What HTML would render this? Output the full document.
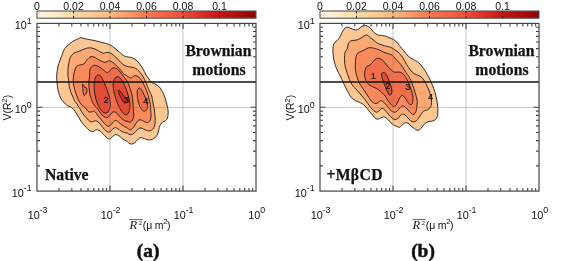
<!DOCTYPE html>
<html><head><meta charset="utf-8"><style>
html,body{margin:0;padding:0;background:#fff;width:566px;height:261px;overflow:hidden}
svg{display:block;will-change:transform}
</style></head><body>
<svg width="566" height="261" viewBox="0 0 566 261">
<defs><linearGradient id="cmap" x1="0" y1="0" x2="1" y2="0"><stop offset="0.000" stop-color="#fff3e2"/><stop offset="0.080" stop-color="#feebcc"/><stop offset="0.167" stop-color="#fddaa5"/><stop offset="0.333" stop-color="#fdbb80"/><stop offset="0.500" stop-color="#f77a50"/><stop offset="0.667" stop-color="#eb5037"/><stop offset="0.750" stop-color="#dc2e23"/><stop offset="0.833" stop-color="#c81414"/><stop offset="1.000" stop-color="#8c0505"/></linearGradient></defs>
<rect width="566" height="261" fill="#fff"/>
<path d="M80.80,37.80 C82.58,37.80 85.50,38.97 87.70,39.40 C89.90,39.83 91.67,39.90 94.00,40.40 C96.33,40.90 99.40,41.80 101.70,42.40 C104.00,43.00 106.02,43.35 107.80,44.00 C109.58,44.65 110.87,45.28 112.40,46.30 C113.93,47.32 115.47,48.83 117.00,50.10 C118.53,51.37 120.32,52.88 121.60,53.90 C122.88,54.92 123.55,55.68 124.70,56.20 C125.85,56.72 127.23,56.73 128.50,57.00 C129.77,57.27 130.88,57.17 132.30,57.80 C133.72,58.43 135.70,59.65 137.00,60.80 C138.30,61.95 139.07,63.30 140.10,64.70 C141.13,66.10 142.30,67.65 143.20,69.20 C144.10,70.75 144.60,72.43 145.50,74.00 C146.40,75.57 147.58,77.20 148.60,78.60 C149.62,80.00 150.45,81.47 151.60,82.40 C152.75,83.33 154.22,83.43 155.50,84.20 C156.78,84.97 158.15,85.77 159.30,87.00 C160.45,88.23 161.55,90.10 162.40,91.60 C163.25,93.10 163.78,94.35 164.40,96.00 C165.02,97.65 165.58,99.67 166.10,101.50 C166.62,103.33 167.15,105.15 167.50,107.00 C167.85,108.85 168.20,110.75 168.20,112.60 C168.20,114.45 167.97,116.73 167.50,118.10 C167.03,119.47 166.20,120.12 165.40,120.80 C164.60,121.48 163.50,121.62 162.70,122.20 C161.90,122.78 161.18,123.38 160.60,124.30 C160.02,125.22 159.58,126.42 159.20,127.70 C158.82,128.98 158.75,130.57 158.30,132.00 C157.85,133.43 157.32,135.18 156.50,136.30 C155.68,137.42 154.35,138.12 153.40,138.70 C152.45,139.28 151.78,139.62 150.80,139.80 C149.82,139.98 148.58,140.00 147.50,139.80 C146.42,139.60 145.38,138.97 144.30,138.60 C143.22,138.23 141.97,137.57 141.00,137.60 C140.03,137.63 139.33,138.15 138.50,138.80 C137.67,139.45 136.92,140.67 136.00,141.50 C135.08,142.33 134.00,143.42 133.00,143.80 C132.00,144.18 130.92,144.13 130.00,143.80 C129.08,143.47 128.38,142.43 127.50,141.80 C126.62,141.17 125.60,140.53 124.70,140.00 C123.80,139.47 123.07,139.32 122.10,138.60 C121.13,137.88 119.98,136.38 118.90,135.70 C117.82,135.02 116.58,134.42 115.60,134.50 C114.62,134.58 113.87,135.48 113.00,136.20 C112.13,136.92 111.27,138.40 110.40,138.80 C109.53,139.20 108.78,139.17 107.80,138.60 C106.82,138.03 105.58,136.48 104.50,135.40 C103.42,134.32 102.38,133.03 101.30,132.10 C100.22,131.17 98.97,130.12 98.00,129.80 C97.03,129.48 96.25,129.95 95.50,130.20 C94.75,130.45 94.22,131.08 93.50,131.30 C92.78,131.52 91.97,131.72 91.20,131.50 C90.43,131.28 89.75,130.70 88.90,130.00 C88.05,129.30 87.05,128.27 86.10,127.30 C85.15,126.33 84.07,125.25 83.20,124.20 C82.33,123.15 81.67,122.17 80.90,121.00 C80.13,119.83 79.37,118.50 78.60,117.20 C77.83,115.90 77.15,114.50 76.30,113.20 C75.45,111.90 74.40,110.42 73.50,109.40 C72.60,108.38 71.97,107.75 70.90,107.10 C69.83,106.45 68.25,106.28 67.10,105.50 C65.95,104.72 65.03,103.57 64.00,102.40 C62.97,101.23 61.80,100.17 60.90,98.50 C60.00,96.83 59.18,94.43 58.60,92.40 C58.02,90.37 57.70,88.35 57.40,86.30 C57.10,84.25 56.90,82.15 56.80,80.10 C56.70,78.05 56.63,76.18 56.80,74.00 C56.97,71.82 57.25,69.32 57.80,67.00 C58.35,64.68 59.33,62.28 60.10,60.10 C60.87,57.92 61.63,55.82 62.40,53.90 C63.17,51.98 63.80,50.00 64.70,48.60 C65.60,47.20 66.52,46.65 67.80,45.50 C69.08,44.35 70.87,42.72 72.40,41.70 C73.93,40.68 75.60,40.05 77.00,39.40 C78.40,38.75 79.02,37.80 80.80,37.80Z" fill="#fdc794" stroke="#1a1a1a" stroke-width="0.9"/>
<path d="M70.90,56.20 C71.67,54.93 72.38,54.08 73.90,53.20 C75.42,52.32 78.08,51.67 80.00,50.90 C81.92,50.13 83.87,49.12 85.40,48.60 C86.93,48.08 87.77,47.80 89.20,47.80 C90.63,47.80 92.43,48.08 94.00,48.60 C95.57,49.12 97.07,50.13 98.60,50.90 C100.13,51.67 101.80,52.95 103.20,53.20 C104.60,53.45 105.72,52.40 107.00,52.40 C108.28,52.40 109.62,52.57 110.90,53.20 C112.18,53.83 113.43,55.05 114.70,56.20 C115.97,57.35 117.22,58.82 118.50,60.10 C119.78,61.38 121.12,62.88 122.40,63.90 C123.68,64.92 124.80,65.68 126.20,66.20 C127.60,66.72 129.50,66.75 130.80,67.00 C132.10,67.25 132.97,67.33 134.00,67.70 C135.03,68.07 136.00,68.40 137.00,69.20 C138.00,70.00 139.00,71.28 140.00,72.50 C141.00,73.72 142.05,74.90 143.00,76.50 C143.95,78.10 144.95,80.47 145.70,82.10 C146.45,83.73 146.90,84.83 147.50,86.30 C148.10,87.77 148.60,89.28 149.30,90.90 C150.00,92.52 151.08,94.00 151.70,96.00 C152.32,98.00 152.55,100.60 153.00,102.90 C153.45,105.20 154.05,107.50 154.40,109.80 C154.75,112.10 154.98,114.47 155.10,116.70 C155.22,118.93 155.32,121.35 155.10,123.20 C154.88,125.05 154.40,126.67 153.80,127.80 C153.20,128.93 152.30,129.47 151.50,130.00 C150.70,130.53 149.83,130.93 149.00,131.00 C148.17,131.07 147.40,130.73 146.50,130.40 C145.60,130.07 144.52,129.40 143.60,129.00 C142.68,128.60 141.87,128.03 141.00,128.00 C140.13,127.97 139.27,128.25 138.40,128.80 C137.53,129.35 136.70,130.43 135.80,131.30 C134.90,132.17 133.97,133.45 133.00,134.00 C132.03,134.55 130.97,134.77 130.00,134.60 C129.03,134.43 128.08,133.33 127.20,133.00 C126.32,132.67 125.65,132.88 124.70,132.60 C123.75,132.32 122.58,131.92 121.50,131.30 C120.42,130.68 119.18,129.52 118.20,128.90 C117.22,128.28 116.47,127.60 115.60,127.60 C114.73,127.60 113.87,128.28 113.00,128.90 C112.13,129.52 111.27,130.78 110.40,131.30 C109.53,131.82 108.78,132.30 107.80,132.00 C106.82,131.70 105.58,130.57 104.50,129.50 C103.42,128.43 102.38,126.87 101.30,125.60 C100.22,124.33 99.05,122.70 98.00,121.90 C96.95,121.10 95.93,120.82 95.00,120.80 C94.07,120.78 93.22,121.68 92.40,121.80 C91.58,121.92 90.92,121.97 90.10,121.50 C89.28,121.03 88.47,120.00 87.50,119.00 C86.53,118.00 85.30,116.75 84.30,115.50 C83.30,114.25 82.35,112.85 81.50,111.50 C80.65,110.15 79.95,108.65 79.20,107.40 C78.45,106.15 77.78,105.15 77.00,104.00 C76.22,102.85 75.25,101.83 74.50,100.50 C73.75,99.17 73.10,97.35 72.50,96.00 C71.90,94.65 71.43,94.02 70.90,92.40 C70.37,90.78 69.68,88.35 69.30,86.30 C68.92,84.25 68.85,82.15 68.60,80.10 C68.35,78.05 67.87,76.18 67.80,74.00 C67.73,71.82 67.95,69.20 68.20,67.00 C68.45,64.80 68.85,62.60 69.30,60.80 C69.75,59.00 70.13,57.47 70.90,56.20Z" fill="#fca872" stroke="#1a1a1a" stroke-width="0.9"/>
<path d="M73.90,74.00 C74.15,72.45 74.32,71.97 74.70,70.80 C75.08,69.63 75.57,67.90 76.20,67.00 C76.83,66.10 77.22,65.92 78.50,65.40 C79.78,64.88 82.62,64.67 83.90,63.90 C85.18,63.13 85.18,61.95 86.20,60.80 C87.22,59.65 88.70,57.63 90.00,57.00 C91.30,56.37 92.70,56.62 94.00,57.00 C95.30,57.38 96.40,58.53 97.80,59.30 C99.20,60.07 101.12,61.08 102.40,61.60 C103.68,62.12 104.47,62.53 105.50,62.40 C106.53,62.27 107.58,60.93 108.60,60.80 C109.62,60.67 110.45,60.95 111.60,61.60 C112.75,62.25 114.22,63.55 115.50,64.70 C116.78,65.85 118.15,67.23 119.30,68.50 C120.45,69.77 121.53,71.30 122.40,72.30 C123.27,73.30 123.82,73.97 124.50,74.50 C125.18,75.03 125.87,75.12 126.50,75.50 C127.13,75.88 127.62,76.38 128.30,76.80 C128.98,77.22 129.90,77.97 130.60,78.00 C131.30,78.03 131.83,77.38 132.50,77.00 C133.17,76.62 133.77,75.82 134.60,75.70 C135.43,75.58 136.58,75.87 137.50,76.30 C138.42,76.73 139.28,77.40 140.10,78.30 C140.92,79.20 141.63,80.37 142.40,81.70 C143.17,83.03 144.00,84.77 144.70,86.30 C145.40,87.83 146.02,89.37 146.60,90.90 C147.18,92.43 147.73,93.98 148.20,95.50 C148.67,97.02 149.05,98.53 149.40,100.00 C149.75,101.47 150.05,102.20 150.30,104.30 C150.55,106.40 150.80,110.30 150.90,112.60 C151.00,114.90 151.12,116.65 150.90,118.10 C150.68,119.55 150.17,120.55 149.60,121.30 C149.03,122.05 148.27,122.48 147.50,122.60 C146.73,122.72 145.83,122.33 145.00,122.00 C144.17,121.67 143.33,120.97 142.50,120.60 C141.67,120.23 140.78,119.77 140.00,119.80 C139.22,119.83 138.53,120.10 137.80,120.80 C137.07,121.50 136.37,122.83 135.60,124.00 C134.83,125.17 134.05,126.83 133.20,127.80 C132.35,128.77 131.45,129.73 130.50,129.80 C129.55,129.87 128.57,128.78 127.50,128.20 C126.43,127.62 125.22,126.95 124.10,126.30 C122.98,125.65 121.78,125.07 120.80,124.30 C119.82,123.53 119.07,122.35 118.20,121.70 C117.33,121.05 116.47,120.30 115.60,120.40 C114.73,120.50 113.87,121.47 113.00,122.30 C112.13,123.13 111.27,124.77 110.40,125.40 C109.53,126.03 108.78,126.40 107.80,126.10 C106.82,125.80 105.58,124.67 104.50,123.60 C103.42,122.53 102.38,121.00 101.30,119.70 C100.22,118.40 98.97,117.05 98.00,115.80 C97.03,114.55 96.25,113.00 95.50,112.20 C94.75,111.40 94.22,111.03 93.50,111.00 C92.78,110.97 91.97,111.87 91.20,112.00 C90.43,112.13 89.57,112.08 88.90,111.80 C88.23,111.52 87.77,110.97 87.20,110.30 C86.63,109.63 86.12,108.43 85.50,107.80 C84.88,107.17 84.28,107.15 83.50,106.50 C82.72,105.85 81.75,105.23 80.80,103.90 C79.85,102.57 78.68,100.42 77.80,98.50 C76.92,96.58 76.15,94.43 75.50,92.40 C74.85,90.37 74.28,88.35 73.90,86.30 C73.52,84.25 73.20,82.15 73.20,80.10 C73.20,78.05 73.65,75.55 73.90,74.00Z" fill="#f88a5b" stroke="#1a1a1a" stroke-width="0.9"/>
<path d="M89.60,76.00 C89.78,73.70 89.60,70.78 90.00,69.20 C90.40,67.62 91.23,67.17 92.00,66.50 C92.77,65.83 93.40,65.13 94.60,65.20 C95.80,65.27 97.67,66.05 99.20,66.90 C100.73,67.75 102.47,69.35 103.80,70.30 C105.13,71.25 106.25,72.50 107.20,72.60 C108.15,72.70 108.53,71.67 109.50,70.90 C110.47,70.13 111.85,68.38 113.00,68.00 C114.15,67.62 115.25,68.02 116.40,68.60 C117.55,69.18 118.75,70.25 119.90,71.50 C121.05,72.75 122.15,74.57 123.30,76.10 C124.45,77.63 125.82,79.05 126.80,80.70 C127.78,82.35 128.47,84.20 129.20,86.00 C129.93,87.80 130.65,89.62 131.20,91.50 C131.75,93.38 132.17,95.07 132.50,97.30 C132.83,99.53 133.03,102.48 133.20,104.90 C133.37,107.32 133.40,109.87 133.50,111.80 C133.60,113.73 133.97,115.13 133.80,116.50 C133.63,117.87 133.08,119.05 132.50,120.00 C131.92,120.95 131.05,121.95 130.30,122.20 C129.55,122.45 128.82,121.73 128.00,121.50 C127.18,121.27 126.27,121.13 125.40,120.80 C124.53,120.47 123.67,120.12 122.80,119.50 C121.93,118.88 121.07,118.03 120.20,117.10 C119.33,116.17 118.47,114.77 117.60,113.90 C116.73,113.03 115.88,112.15 115.00,111.90 C114.12,111.65 113.18,111.80 112.30,112.40 C111.42,113.00 110.57,114.63 109.70,115.50 C108.83,116.37 108.07,117.43 107.10,117.60 C106.13,117.77 104.98,117.23 103.90,116.50 C102.82,115.77 101.58,114.37 100.60,113.20 C99.62,112.03 98.85,110.62 98.00,109.50 C97.15,108.38 96.28,107.50 95.50,106.50 C94.72,105.50 93.97,104.67 93.30,103.50 C92.63,102.33 92.03,100.92 91.50,99.50 C90.97,98.08 90.48,96.75 90.10,95.00 C89.72,93.25 89.40,91.00 89.20,89.00 C89.00,87.00 88.83,85.17 88.90,83.00 C88.97,80.83 89.42,78.30 89.60,76.00Z" fill="#f06e4a" stroke="#1a1a1a" stroke-width="0.9"/>
<path d="M139.10,88.10 C139.78,87.85 140.75,88.87 141.40,89.60 C142.05,90.33 142.48,91.48 143.00,92.50 C143.52,93.52 144.00,94.53 144.50,95.70 C145.00,96.87 145.55,98.28 146.00,99.50 C146.45,100.72 146.95,101.83 147.20,103.00 C147.45,104.17 147.60,105.37 147.50,106.50 C147.40,107.63 147.10,109.00 146.60,109.80 C146.10,110.60 145.18,111.20 144.50,111.30 C143.82,111.40 143.17,110.98 142.50,110.40 C141.83,109.82 141.10,108.87 140.50,107.80 C139.90,106.73 139.35,105.38 138.90,104.00 C138.45,102.62 138.07,100.88 137.80,99.50 C137.53,98.12 137.38,97.10 137.30,95.70 C137.22,94.30 137.00,92.37 137.30,91.10 C137.60,89.83 138.42,88.35 139.10,88.10Z" fill="#f06e4a" stroke="#1a1a1a" stroke-width="0.9"/>
<path d="M82.50,84.60 C82.65,84.00 83.28,84.45 83.60,84.90 C83.92,85.35 84.02,86.88 84.40,87.30 C84.78,87.72 85.48,87.15 85.90,87.40 C86.32,87.65 86.73,88.07 86.90,88.80 C87.07,89.53 87.12,90.90 86.90,91.80 C86.68,92.70 86.10,93.62 85.60,94.20 C85.10,94.78 84.30,95.58 83.90,95.30 C83.50,95.02 83.40,93.63 83.20,92.50 C83.00,91.37 82.82,89.82 82.70,88.50 C82.58,87.18 82.35,85.20 82.50,84.60Z" fill="#f06e4a" stroke="#1a1a1a" stroke-width="0.9"/>
<path d="M96.90,75.50 C97.60,74.90 98.43,74.62 99.20,74.90 C99.97,75.18 100.73,76.05 101.50,77.20 C102.27,78.35 103.08,80.25 103.80,81.80 C104.52,83.35 105.18,84.97 105.80,86.50 C106.42,88.03 106.93,89.42 107.50,91.00 C108.07,92.58 108.75,94.25 109.20,96.00 C109.65,97.75 110.02,99.83 110.20,101.50 C110.38,103.17 110.47,104.58 110.30,106.00 C110.13,107.42 109.75,108.87 109.20,110.00 C108.65,111.13 107.87,112.33 107.00,112.80 C106.13,113.27 105.00,113.27 104.00,112.80 C103.00,112.33 101.95,111.22 101.00,110.00 C100.05,108.78 99.10,107.17 98.30,105.50 C97.50,103.83 96.78,101.92 96.20,100.00 C95.62,98.08 95.13,95.92 94.80,94.00 C94.47,92.08 94.28,90.33 94.20,88.50 C94.12,86.67 94.17,84.67 94.30,83.00 C94.43,81.33 94.57,79.75 95.00,78.50 C95.43,77.25 96.20,76.10 96.90,75.50Z" fill="#e24c35" stroke="#1a1a1a" stroke-width="0.9"/>
<path d="M114.10,79.50 C114.55,78.37 115.22,77.67 115.90,77.20 C116.58,76.73 117.43,76.50 118.20,76.70 C118.97,76.90 119.73,77.55 120.50,78.40 C121.27,79.25 122.13,80.65 122.80,81.80 C123.47,82.95 123.92,84.02 124.50,85.30 C125.08,86.58 125.75,88.05 126.30,89.50 C126.85,90.95 127.32,92.42 127.80,94.00 C128.28,95.58 128.85,97.25 129.20,99.00 C129.55,100.75 129.83,102.75 129.90,104.50 C129.97,106.25 129.95,107.95 129.60,109.50 C129.25,111.05 128.57,112.92 127.80,113.80 C127.03,114.68 126.00,115.18 125.00,114.80 C124.00,114.42 122.83,112.88 121.80,111.50 C120.77,110.12 119.70,108.33 118.80,106.50 C117.90,104.67 117.10,102.48 116.40,100.50 C115.70,98.52 115.10,96.52 114.60,94.60 C114.10,92.68 113.63,90.77 113.40,89.00 C113.17,87.23 113.08,85.58 113.20,84.00 C113.32,82.42 113.65,80.63 114.10,79.50Z" fill="#e24c35" stroke="#1a1a1a" stroke-width="0.9"/>
<path d="M118.40,90.40 C118.67,90.08 119.73,90.73 120.50,91.50 C121.27,92.27 122.20,93.92 123.00,95.00 C123.80,96.08 124.57,97.23 125.30,98.00 C126.03,98.77 127.08,98.90 127.40,99.60 C127.72,100.30 127.67,101.57 127.20,102.20 C126.73,102.83 125.30,103.52 124.60,103.40 C123.90,103.28 123.65,102.52 123.00,101.50 C122.35,100.48 121.38,98.65 120.70,97.30 C120.02,95.95 119.28,94.55 118.90,93.40 C118.52,92.25 118.13,90.72 118.40,90.40Z" fill="#d02c1d" stroke="#1a1a1a" stroke-width="0.9"/>
<text x="106.2" y="103.4" font-family='"Liberation Sans", sans-serif' font-size="9.3" fill="#111" stroke="#111" stroke-width="0.2" text-anchor="middle">2</text>
<text x="126.6" y="103.4" font-family='"Liberation Sans", sans-serif' font-size="9.3" fill="#111" stroke="#111" stroke-width="0.2" text-anchor="middle">3</text>
<text x="145.9" y="104.0" font-family='"Liberation Sans", sans-serif' font-size="9.3" fill="#111" stroke="#111" stroke-width="0.2" text-anchor="middle">4</text>
<line x1="110.00" y1="23.40" x2="110.00" y2="191.10" stroke="#777" stroke-opacity="0.4" stroke-width="1"/>
<line x1="183.00" y1="23.40" x2="183.00" y2="191.10" stroke="#777" stroke-opacity="0.4" stroke-width="1"/>
<line x1="37.00" y1="107.50" x2="256.00" y2="107.50" stroke="#777" stroke-opacity="0.4" stroke-width="1"/>
<line x1="37.00" y1="82.01" x2="256.00" y2="82.01" stroke="#111" stroke-width="1.5"/>
<path d="M58.98,191.10v-3.00M58.98,23.40v3.00M71.83,191.10v-3.00M71.83,23.40v3.00M80.95,191.10v-3.00M80.95,23.40v3.00M88.02,191.10v-3.00M88.02,23.40v3.00M93.81,191.10v-3.00M93.81,23.40v3.00M98.69,191.10v-3.00M98.69,23.40v3.00M102.93,191.10v-3.00M102.93,23.40v3.00M106.66,191.10v-3.00M106.66,23.40v3.00M110.00,191.10v-5.50M110.00,23.40v5.50M131.98,191.10v-3.00M131.98,23.40v3.00M144.83,191.10v-3.00M144.83,23.40v3.00M153.95,191.10v-3.00M153.95,23.40v3.00M161.02,191.10v-3.00M161.02,23.40v3.00M166.81,191.10v-3.00M166.81,23.40v3.00M171.69,191.10v-3.00M171.69,23.40v3.00M175.93,191.10v-3.00M175.93,23.40v3.00M179.66,191.10v-3.00M179.66,23.40v3.00M183.00,191.10v-5.50M183.00,23.40v5.50M204.98,191.10v-3.00M204.98,23.40v3.00M217.83,191.10v-3.00M217.83,23.40v3.00M226.95,191.10v-3.00M226.95,23.40v3.00M234.02,191.10v-3.00M234.02,23.40v3.00M239.81,191.10v-3.00M239.81,23.40v3.00M244.69,191.10v-3.00M244.69,23.40v3.00M248.93,191.10v-3.00M248.93,23.40v3.00M252.66,191.10v-3.00M252.66,23.40v3.00M37.00,165.86h3.00M256.00,165.86h-3.00M37.00,151.09h3.00M256.00,151.09h-3.00M37.00,140.62h3.00M256.00,140.62h-3.00M37.00,132.49h3.00M256.00,132.49h-3.00M37.00,125.85h3.00M256.00,125.85h-3.00M37.00,120.24h3.00M256.00,120.24h-3.00M37.00,115.38h3.00M256.00,115.38h-3.00M37.00,111.09h3.00M256.00,111.09h-3.00M37.00,107.25h5.50M256.00,107.25h-5.50M37.00,82.01h3.00M256.00,82.01h-3.00M37.00,67.24h3.00M256.00,67.24h-3.00M37.00,56.77h3.00M256.00,56.77h-3.00M37.00,48.64h3.00M256.00,48.64h-3.00M37.00,42.00h3.00M256.00,42.00h-3.00M37.00,36.39h3.00M256.00,36.39h-3.00M37.00,31.53h3.00M256.00,31.53h-3.00M37.00,27.24h3.00M256.00,27.24h-3.00" stroke="#454545" stroke-width="1.1" fill="none"/>
<rect x="37.00" y="23.40" width="219.00" height="167.70" fill="none" stroke="#454545" stroke-width="1.2"/>
<rect x="37.00" y="11.00" width="219.00" height="7.20" fill="url(#cmap)" stroke="#555" stroke-width="1.1"/>
<text x="37.00" y="9.6" font-family='"Liberation Sans", sans-serif' font-size="10.5" fill="#111" text-anchor="middle">0</text>
<text x="73.50" y="9.6" font-family='"Liberation Sans", sans-serif' font-size="10.5" fill="#111" text-anchor="middle">0.02</text>
<text x="110.00" y="9.6" font-family='"Liberation Sans", sans-serif' font-size="10.5" fill="#111" text-anchor="middle">0.04</text>
<text x="146.50" y="9.6" font-family='"Liberation Sans", sans-serif' font-size="10.5" fill="#111" text-anchor="middle">0.06</text>
<text x="183.00" y="9.6" font-family='"Liberation Sans", sans-serif' font-size="10.5" fill="#111" text-anchor="middle">0.08</text>
<text x="219.50" y="9.6" font-family='"Liberation Sans", sans-serif' font-size="10.5" fill="#111" text-anchor="middle">0.1</text>
<path d="M73.50,11.00v2.4M73.50,18.20v-2.4M110.00,11.00v2.4M110.00,18.20v-2.4M146.50,11.00v2.4M146.50,18.20v-2.4M183.00,11.00v2.4M183.00,18.20v-2.4M219.50,11.00v2.4M219.50,18.20v-2.4" stroke="#222" stroke-width="1" fill="none"/>
<text x="31.70" y="29.10" font-family='"Liberation Sans", sans-serif' font-size="10.8" fill="#111" text-anchor="end">10<tspan dy="-5.4" font-size="8.8">1</tspan></text>
<text x="31.70" y="112.95" font-family='"Liberation Sans", sans-serif' font-size="10.8" fill="#111" text-anchor="end">10<tspan dy="-5.4" font-size="8.8">0</tspan></text>
<text x="31.70" y="196.80" font-family='"Liberation Sans", sans-serif' font-size="10.8" fill="#111" text-anchor="end">10<tspan dy="-5.4" font-size="8.8">-1</tspan></text>
<text x="37.60" y="218.7" font-family='"Liberation Sans", sans-serif' font-size="10.8" fill="#111" text-anchor="middle">10<tspan dy="-5.4" font-size="8.8">-3</tspan></text>
<text x="110.60" y="218.7" font-family='"Liberation Sans", sans-serif' font-size="10.8" fill="#111" text-anchor="middle">10<tspan dy="-5.4" font-size="8.8">-2</tspan></text>
<text x="183.60" y="218.7" font-family='"Liberation Sans", sans-serif' font-size="10.8" fill="#111" text-anchor="middle">10<tspan dy="-5.4" font-size="8.8">-1</tspan></text>
<text x="256.60" y="218.7" font-family='"Liberation Sans", sans-serif' font-size="10.8" fill="#111" text-anchor="middle">10<tspan dy="-5.4" font-size="8.8">0</tspan></text>
<text transform="translate(10.60,107.6) rotate(-90)" font-family='"Liberation Sans", sans-serif' font-size="10.5" fill="#111" text-anchor="middle">V(R<tspan dy="-4" font-size="7.5">2</tspan><tspan dy="4">)</tspan></text>
<line x1="129.40" y1="219.6" x2="142.70" y2="219.6" stroke="#333" stroke-width="0.8"/>
<text x="129.60" y="228.8" font-family='"Liberation Serif", serif' font-style="italic" font-size="12.5" fill="#111">R</text>
<text x="138.60" y="225.4" font-family='"Liberation Serif", serif' font-size="7" fill="#111">2</text>
<text x="142.80" y="228.8" font-family='"Liberation Sans", sans-serif' font-size="10.5" fill="#111">(μ<tspan dx="0.4"> m</tspan><tspan dy="-5" dx="-0.4" font-size="7.8">2</tspan><tspan dy="5" dx="-0.6">)</tspan></text>
<text x="218.40" y="55.8" font-family='"Liberation Serif", serif' font-weight="bold" font-size="15.7" fill="#111" stroke="#111" stroke-width="0.25" text-anchor="middle">Brownian</text>
<text x="218.90" y="75.2" font-family='"Liberation Serif", serif' font-weight="bold" font-size="15.7" fill="#111" stroke="#111" stroke-width="0.25" text-anchor="middle">motions</text>
<text x="45.00" y="179.8" font-family='"Liberation Serif", serif' font-weight="bold" font-size="15.7" fill="#111" stroke="#111" stroke-width="0.25" letter-spacing="0">Native</text>
<text x="148.10" y="257.4" font-family='"Liberation Serif", serif' font-weight="bold" font-size="19.4" fill="#111" stroke="#111" stroke-width="0.5" text-anchor="middle">(a)</text>
<path d="M335.00,42.10 C335.63,41.33 336.53,41.17 337.30,40.40 C338.07,39.63 338.83,38.75 339.60,37.50 C340.37,36.25 341.13,34.33 341.90,32.90 C342.67,31.47 343.43,29.85 344.20,28.90 C344.97,27.95 345.63,27.38 346.50,27.20 C347.37,27.02 348.45,27.52 349.40,27.80 C350.35,28.08 351.15,28.52 352.20,28.90 C353.25,29.28 354.63,30.10 355.70,30.10 C356.77,30.10 357.65,29.48 358.60,28.90 C359.55,28.32 360.45,27.17 361.40,26.60 C362.35,26.03 363.33,25.60 364.30,25.50 C365.27,25.40 366.33,25.72 367.20,26.00 C368.07,26.28 368.73,26.58 369.50,27.20 C370.27,27.82 371.08,28.85 371.80,29.70 C372.52,30.55 372.82,31.43 373.80,32.30 C374.78,33.17 376.42,34.38 377.70,34.90 C378.98,35.42 380.23,35.20 381.50,35.40 C382.77,35.60 384.02,35.72 385.30,36.10 C386.58,36.48 387.92,37.18 389.20,37.70 C390.48,38.22 391.73,38.45 393.00,39.20 C394.27,39.95 395.72,41.15 396.80,42.20 C397.88,43.25 398.37,44.08 399.50,45.50 C400.63,46.92 402.12,48.90 403.60,50.70 C405.08,52.50 406.80,54.85 408.40,56.30 C410.00,57.75 411.60,58.42 413.20,59.40 C414.80,60.38 416.57,61.08 418.00,62.20 C419.43,63.32 420.52,64.50 421.80,66.10 C423.08,67.70 424.42,69.73 425.70,71.80 C426.98,73.87 428.38,76.27 429.50,78.50 C430.62,80.73 431.52,83.03 432.40,85.20 C433.28,87.37 434.07,89.03 434.80,91.50 C435.53,93.97 436.30,97.25 436.80,100.00 C437.30,102.75 437.68,105.38 437.80,108.00 C437.92,110.62 437.88,113.78 437.50,115.70 C437.12,117.62 436.33,118.62 435.50,119.50 C434.67,120.38 433.58,120.67 432.50,121.00 C431.42,121.33 430.17,121.17 429.00,121.50 C427.83,121.83 426.58,122.17 425.50,123.00 C424.42,123.83 423.45,125.40 422.50,126.50 C421.55,127.60 420.72,128.98 419.80,129.60 C418.88,130.22 417.88,130.37 417.00,130.20 C416.12,130.03 415.33,129.17 414.50,128.60 C413.67,128.03 412.83,127.52 412.00,126.80 C411.17,126.08 410.33,124.97 409.50,124.30 C408.67,123.63 407.83,123.02 407.00,122.80 C406.17,122.58 405.33,122.60 404.50,123.00 C403.67,123.40 402.83,124.48 402.00,125.20 C401.17,125.92 400.42,127.12 399.50,127.30 C398.58,127.48 397.47,126.68 396.50,126.30 C395.53,125.92 394.45,125.43 393.70,125.00 C392.95,124.57 392.77,124.38 392.00,123.70 C391.23,123.02 390.05,121.85 389.10,120.90 C388.15,119.95 387.25,118.68 386.30,118.00 C385.35,117.32 384.37,116.80 383.40,116.80 C382.43,116.80 381.37,117.62 380.50,118.00 C379.63,118.38 378.97,119.00 378.20,119.10 C377.43,119.20 376.77,119.17 375.90,118.60 C375.03,118.03 373.95,116.77 373.00,115.70 C372.05,114.63 371.15,113.35 370.20,112.20 C369.25,111.05 368.17,109.85 367.30,108.80 C366.43,107.75 365.88,106.77 365.00,105.90 C364.12,105.03 362.97,104.22 362.00,103.60 C361.03,102.98 360.32,102.72 359.20,102.20 C358.08,101.68 356.58,101.25 355.30,100.50 C354.02,99.75 352.62,98.90 351.50,97.70 C350.38,96.50 349.57,94.98 348.60,93.30 C347.63,91.62 346.65,89.52 345.70,87.60 C344.75,85.68 343.73,83.57 342.90,81.80 C342.07,80.03 341.45,78.55 340.70,77.00 C339.95,75.45 339.17,74.08 338.40,72.50 C337.63,70.92 336.73,69.08 336.10,67.50 C335.47,65.92 335.03,64.58 334.60,63.00 C334.17,61.42 333.77,59.67 333.50,58.00 C333.23,56.33 333.08,54.67 333.00,53.00 C332.92,51.33 332.92,49.33 333.00,48.00 C333.08,46.67 333.17,45.98 333.50,45.00 C333.83,44.02 334.37,42.87 335.00,42.10Z" fill="#fdc794" stroke="#1a1a1a" stroke-width="0.9"/>
<path d="M347.60,48.00 C348.08,46.73 347.72,45.07 348.20,43.90 C348.68,42.73 349.53,41.58 350.50,41.00 C351.47,40.42 352.85,40.60 354.00,40.40 C355.15,40.20 356.25,40.18 357.40,39.80 C358.55,39.42 359.75,38.77 360.90,38.10 C362.05,37.43 363.25,36.28 364.30,35.80 C365.35,35.32 366.23,34.90 367.20,35.20 C368.17,35.50 369.00,36.73 370.10,37.60 C371.20,38.47 372.53,39.43 373.80,40.40 C375.07,41.37 376.28,42.63 377.70,43.40 C379.12,44.17 380.77,44.48 382.30,45.00 C383.83,45.52 385.50,46.12 386.90,46.50 C388.30,46.88 389.35,46.72 390.70,47.30 C392.05,47.88 393.65,49.10 395.00,50.00 C396.35,50.90 397.52,51.45 398.80,52.70 C400.08,53.95 401.42,55.58 402.70,57.50 C403.98,59.42 405.23,62.13 406.50,64.20 C407.77,66.27 409.02,68.32 410.30,69.90 C411.58,71.48 412.75,72.73 414.20,73.70 C415.65,74.67 417.57,74.90 419.00,75.70 C420.43,76.50 421.68,77.23 422.80,78.50 C423.92,79.77 424.75,81.53 425.70,83.30 C426.65,85.07 427.72,87.15 428.50,89.10 C429.28,91.05 429.92,93.18 430.40,95.00 C430.88,96.82 431.25,98.30 431.40,100.00 C431.55,101.70 431.60,103.85 431.30,105.20 C431.00,106.55 430.17,107.33 429.60,108.10 C429.03,108.87 428.57,109.42 427.90,109.80 C427.23,110.18 426.37,110.12 425.60,110.40 C424.83,110.68 424.07,110.83 423.30,111.50 C422.53,112.17 421.77,113.35 421.00,114.40 C420.23,115.45 419.47,116.75 418.70,117.80 C417.93,118.85 417.27,120.02 416.40,120.70 C415.53,121.38 414.47,121.90 413.50,121.90 C412.53,121.90 411.55,121.38 410.60,120.70 C409.65,120.02 408.73,118.75 407.80,117.80 C406.87,116.85 405.88,115.63 405.00,115.00 C404.12,114.37 403.32,113.88 402.50,114.00 C401.68,114.12 400.88,114.93 400.10,115.70 C399.32,116.47 398.67,117.93 397.80,118.60 C396.93,119.27 395.87,119.80 394.90,119.70 C393.93,119.60 392.97,118.77 392.00,118.00 C391.03,117.23 390.05,116.15 389.10,115.10 C388.15,114.05 387.25,112.75 386.30,111.70 C385.35,110.65 384.27,109.28 383.40,108.80 C382.53,108.32 381.87,108.42 381.10,108.80 C380.33,109.18 379.57,110.53 378.80,111.10 C378.03,111.67 377.37,112.30 376.50,112.20 C375.63,112.10 374.57,111.27 373.60,110.50 C372.63,109.73 371.65,108.75 370.70,107.60 C369.75,106.45 368.85,104.93 367.90,103.60 C366.95,102.27 365.98,100.87 365.00,99.60 C364.02,98.33 363.00,97.18 362.00,96.00 C361.00,94.82 360.00,93.67 359.00,92.50 C358.00,91.33 356.93,89.98 356.00,89.00 C355.07,88.02 354.32,87.80 353.40,86.60 C352.48,85.40 351.32,83.40 350.50,81.80 C349.68,80.20 349.10,78.55 348.50,77.00 C347.90,75.45 347.43,74.17 346.90,72.50 C346.37,70.83 345.68,68.75 345.30,67.00 C344.92,65.25 344.72,63.90 344.60,62.00 C344.48,60.10 344.48,57.35 344.60,55.60 C344.72,53.85 344.80,52.77 345.30,51.50 C345.80,50.23 347.12,49.27 347.60,48.00Z" fill="#fca872" stroke="#1a1a1a" stroke-width="0.9"/>
<path d="M355.30,68.00 C355.27,66.28 355.37,63.63 355.50,61.70 C355.63,59.77 355.67,57.83 356.10,56.40 C356.53,54.97 357.27,53.92 358.10,53.10 C358.93,52.28 360.08,52.02 361.10,51.50 C362.12,50.98 363.22,50.50 364.20,50.00 C365.18,49.50 366.03,48.90 367.00,48.50 C367.97,48.10 368.73,47.62 370.00,47.60 C371.27,47.58 373.07,48.02 374.60,48.40 C376.13,48.78 377.67,49.27 379.20,49.90 C380.73,50.53 382.27,51.57 383.80,52.20 C385.33,52.83 387.00,53.20 388.40,53.70 C389.80,54.20 391.10,54.42 392.20,55.20 C393.30,55.98 393.90,57.23 395.00,58.40 C396.10,59.57 397.52,60.77 398.80,62.20 C400.08,63.63 401.58,65.40 402.70,67.00 C403.82,68.60 404.37,70.03 405.50,71.80 C406.63,73.57 408.42,75.68 409.50,77.60 C410.58,79.52 411.25,81.40 412.00,83.30 C412.75,85.20 413.37,87.05 414.00,89.00 C414.63,90.95 415.27,93.07 415.80,95.00 C416.33,96.93 417.00,98.90 417.20,100.60 C417.40,102.30 417.13,103.67 417.00,105.20 C416.87,106.73 416.70,108.47 416.40,109.80 C416.10,111.13 415.78,112.43 415.20,113.20 C414.62,113.97 413.67,114.48 412.90,114.40 C412.13,114.32 411.45,113.47 410.60,112.70 C409.75,111.93 408.75,110.77 407.80,109.80 C406.85,108.83 405.77,107.57 404.90,106.90 C404.03,106.23 403.33,105.78 402.60,105.80 C401.87,105.82 401.18,106.38 400.50,107.00 C399.82,107.62 399.17,108.75 398.50,109.50 C397.83,110.25 397.20,111.05 396.50,111.50 C395.80,111.95 395.15,112.27 394.30,112.20 C393.45,112.13 392.35,111.87 391.40,111.10 C390.45,110.33 389.55,108.75 388.60,107.60 C387.65,106.45 386.67,105.25 385.70,104.20 C384.73,103.15 383.67,101.88 382.80,101.30 C381.93,100.72 381.27,100.50 380.50,100.70 C379.73,100.90 378.97,102.02 378.20,102.50 C377.43,102.98 376.77,103.60 375.90,103.60 C375.03,103.60 373.95,103.17 373.00,102.50 C372.05,101.83 371.15,100.85 370.20,99.60 C369.25,98.35 368.25,96.43 367.30,95.00 C366.35,93.57 365.47,92.40 364.50,91.00 C363.53,89.60 362.47,88.13 361.50,86.60 C360.53,85.07 359.48,83.57 358.70,81.80 C357.92,80.03 357.30,77.63 356.80,76.00 C356.30,74.37 355.95,73.33 355.70,72.00 C355.45,70.67 355.33,69.72 355.30,68.00Z" fill="#f88a5b" stroke="#1a1a1a" stroke-width="0.9"/>
<path d="M365.20,69.80 C365.58,68.45 366.13,67.17 366.90,66.40 C367.67,65.63 368.85,65.87 369.80,65.20 C370.75,64.53 371.75,63.35 372.60,62.40 C373.45,61.45 374.03,60.18 374.90,59.50 C375.77,58.82 376.83,58.40 377.80,58.30 C378.77,58.20 379.73,58.42 380.70,58.90 C381.67,59.38 382.73,60.33 383.60,61.20 C384.47,62.07 385.05,63.05 385.90,64.10 C386.75,65.15 387.75,66.45 388.70,67.50 C389.65,68.55 390.63,69.63 391.60,70.40 C392.57,71.17 393.53,71.82 394.50,72.10 C395.47,72.38 396.45,72.08 397.40,72.10 C398.35,72.12 399.15,71.80 400.20,72.20 C401.25,72.60 402.65,73.45 403.70,74.50 C404.75,75.55 405.65,77.08 406.50,78.50 C407.35,79.92 408.13,81.42 408.80,83.00 C409.47,84.58 410.00,86.50 410.50,88.00 C411.00,89.50 411.40,90.67 411.80,92.00 C412.20,93.33 412.72,94.57 412.90,96.00 C413.08,97.43 413.02,99.27 412.90,100.60 C412.78,101.93 412.58,103.32 412.20,104.00 C411.82,104.68 411.25,104.88 410.60,104.70 C409.95,104.52 409.07,103.78 408.30,102.90 C407.53,102.02 406.77,100.50 406.00,99.40 C405.23,98.30 404.43,96.97 403.70,96.30 C402.97,95.63 402.25,95.12 401.60,95.40 C400.95,95.68 400.43,96.92 399.80,98.00 C399.17,99.08 398.43,100.68 397.80,101.90 C397.17,103.12 396.68,104.53 396.00,105.30 C395.32,106.07 394.55,106.68 393.70,106.50 C392.85,106.32 391.95,105.35 390.90,104.20 C389.85,103.05 388.47,101.13 387.40,99.60 C386.33,98.07 385.48,96.22 384.50,95.00 C383.52,93.78 382.52,93.22 381.50,92.30 C380.48,91.38 379.68,90.35 378.40,89.50 C377.12,88.65 375.33,87.97 373.80,87.20 C372.27,86.43 370.55,86.05 369.20,84.90 C367.85,83.75 366.47,82.03 365.70,80.30 C364.93,78.57 364.68,76.25 364.60,74.50 C364.52,72.75 364.82,71.15 365.20,69.80Z" fill="#f06e4a" stroke="#1a1a1a" stroke-width="0.9"/>
<path d="M381.90,73.20 C382.22,72.78 383.03,72.40 383.60,72.40 C384.17,72.40 384.72,72.60 385.30,73.20 C385.88,73.80 386.52,74.85 387.10,76.00 C387.68,77.15 388.23,78.65 388.80,80.10 C389.37,81.55 390.02,83.17 390.50,84.70 C390.98,86.23 391.50,87.97 391.70,89.30 C391.90,90.63 391.90,91.75 391.70,92.70 C391.50,93.65 390.98,94.72 390.50,95.00 C390.02,95.28 389.37,95.07 388.80,94.40 C388.23,93.73 387.68,92.23 387.10,91.00 C386.52,89.77 385.88,88.43 385.30,87.00 C384.72,85.57 384.13,83.93 383.60,82.40 C383.07,80.87 382.42,79.05 382.10,77.80 C381.78,76.55 381.73,75.67 381.70,74.90 C381.67,74.13 381.58,73.62 381.90,73.20Z" fill="#e24c35" stroke="#1a1a1a" stroke-width="0.9"/>
<text x="373.3" y="79.1" font-family='"Liberation Sans", sans-serif' font-size="9.3" fill="#111" stroke="#111" stroke-width="0.2" text-anchor="middle">1</text>
<text x="387.9" y="89.3" font-family='"Liberation Sans", sans-serif' font-size="9.3" fill="#111" stroke="#111" stroke-width="0.2" text-anchor="middle">2</text>
<text x="407.9" y="90.0" font-family='"Liberation Sans", sans-serif' font-size="9.3" fill="#111" stroke="#111" stroke-width="0.2" text-anchor="middle">3</text>
<text x="430.6" y="99.9" font-family='"Liberation Sans", sans-serif' font-size="9.3" fill="#111" stroke="#111" stroke-width="0.2" text-anchor="middle">4</text>
<line x1="393.00" y1="23.40" x2="393.00" y2="191.10" stroke="#777" stroke-opacity="0.4" stroke-width="1"/>
<line x1="466.00" y1="23.40" x2="466.00" y2="191.10" stroke="#777" stroke-opacity="0.4" stroke-width="1"/>
<line x1="320.00" y1="107.50" x2="539.00" y2="107.50" stroke="#777" stroke-opacity="0.4" stroke-width="1"/>
<line x1="320.00" y1="82.01" x2="539.00" y2="82.01" stroke="#111" stroke-width="1.5"/>
<path d="M341.98,191.10v-3.00M341.98,23.40v3.00M354.83,191.10v-3.00M354.83,23.40v3.00M363.95,191.10v-3.00M363.95,23.40v3.00M371.02,191.10v-3.00M371.02,23.40v3.00M376.81,191.10v-3.00M376.81,23.40v3.00M381.69,191.10v-3.00M381.69,23.40v3.00M385.93,191.10v-3.00M385.93,23.40v3.00M389.66,191.10v-3.00M389.66,23.40v3.00M393.00,191.10v-5.50M393.00,23.40v5.50M414.98,191.10v-3.00M414.98,23.40v3.00M427.83,191.10v-3.00M427.83,23.40v3.00M436.95,191.10v-3.00M436.95,23.40v3.00M444.02,191.10v-3.00M444.02,23.40v3.00M449.81,191.10v-3.00M449.81,23.40v3.00M454.69,191.10v-3.00M454.69,23.40v3.00M458.93,191.10v-3.00M458.93,23.40v3.00M462.66,191.10v-3.00M462.66,23.40v3.00M466.00,191.10v-5.50M466.00,23.40v5.50M487.98,191.10v-3.00M487.98,23.40v3.00M500.83,191.10v-3.00M500.83,23.40v3.00M509.95,191.10v-3.00M509.95,23.40v3.00M517.02,191.10v-3.00M517.02,23.40v3.00M522.81,191.10v-3.00M522.81,23.40v3.00M527.69,191.10v-3.00M527.69,23.40v3.00M531.93,191.10v-3.00M531.93,23.40v3.00M535.66,191.10v-3.00M535.66,23.40v3.00M320.00,165.86h3.00M539.00,165.86h-3.00M320.00,151.09h3.00M539.00,151.09h-3.00M320.00,140.62h3.00M539.00,140.62h-3.00M320.00,132.49h3.00M539.00,132.49h-3.00M320.00,125.85h3.00M539.00,125.85h-3.00M320.00,120.24h3.00M539.00,120.24h-3.00M320.00,115.38h3.00M539.00,115.38h-3.00M320.00,111.09h3.00M539.00,111.09h-3.00M320.00,107.25h5.50M539.00,107.25h-5.50M320.00,82.01h3.00M539.00,82.01h-3.00M320.00,67.24h3.00M539.00,67.24h-3.00M320.00,56.77h3.00M539.00,56.77h-3.00M320.00,48.64h3.00M539.00,48.64h-3.00M320.00,42.00h3.00M539.00,42.00h-3.00M320.00,36.39h3.00M539.00,36.39h-3.00M320.00,31.53h3.00M539.00,31.53h-3.00M320.00,27.24h3.00M539.00,27.24h-3.00" stroke="#454545" stroke-width="1.1" fill="none"/>
<rect x="320.00" y="23.40" width="219.00" height="167.70" fill="none" stroke="#454545" stroke-width="1.2"/>
<rect x="320.00" y="11.00" width="219.00" height="7.20" fill="url(#cmap)" stroke="#555" stroke-width="1.1"/>
<text x="320.00" y="9.6" font-family='"Liberation Sans", sans-serif' font-size="10.5" fill="#111" text-anchor="middle">0</text>
<text x="356.50" y="9.6" font-family='"Liberation Sans", sans-serif' font-size="10.5" fill="#111" text-anchor="middle">0.02</text>
<text x="393.00" y="9.6" font-family='"Liberation Sans", sans-serif' font-size="10.5" fill="#111" text-anchor="middle">0.04</text>
<text x="429.50" y="9.6" font-family='"Liberation Sans", sans-serif' font-size="10.5" fill="#111" text-anchor="middle">0.06</text>
<text x="466.00" y="9.6" font-family='"Liberation Sans", sans-serif' font-size="10.5" fill="#111" text-anchor="middle">0.08</text>
<text x="502.50" y="9.6" font-family='"Liberation Sans", sans-serif' font-size="10.5" fill="#111" text-anchor="middle">0.1</text>
<path d="M356.50,11.00v2.4M356.50,18.20v-2.4M393.00,11.00v2.4M393.00,18.20v-2.4M429.50,11.00v2.4M429.50,18.20v-2.4M466.00,11.00v2.4M466.00,18.20v-2.4M502.50,11.00v2.4M502.50,18.20v-2.4" stroke="#222" stroke-width="1" fill="none"/>
<text x="314.70" y="29.10" font-family='"Liberation Sans", sans-serif' font-size="10.8" fill="#111" text-anchor="end">10<tspan dy="-5.4" font-size="8.8">1</tspan></text>
<text x="314.70" y="112.95" font-family='"Liberation Sans", sans-serif' font-size="10.8" fill="#111" text-anchor="end">10<tspan dy="-5.4" font-size="8.8">0</tspan></text>
<text x="314.70" y="196.80" font-family='"Liberation Sans", sans-serif' font-size="10.8" fill="#111" text-anchor="end">10<tspan dy="-5.4" font-size="8.8">-1</tspan></text>
<text x="320.60" y="218.7" font-family='"Liberation Sans", sans-serif' font-size="10.8" fill="#111" text-anchor="middle">10<tspan dy="-5.4" font-size="8.8">-3</tspan></text>
<text x="393.60" y="218.7" font-family='"Liberation Sans", sans-serif' font-size="10.8" fill="#111" text-anchor="middle">10<tspan dy="-5.4" font-size="8.8">-2</tspan></text>
<text x="466.60" y="218.7" font-family='"Liberation Sans", sans-serif' font-size="10.8" fill="#111" text-anchor="middle">10<tspan dy="-5.4" font-size="8.8">-1</tspan></text>
<text x="539.60" y="218.7" font-family='"Liberation Sans", sans-serif' font-size="10.8" fill="#111" text-anchor="middle">10<tspan dy="-5.4" font-size="8.8">0</tspan></text>
<text transform="translate(293.60,107.6) rotate(-90)" font-family='"Liberation Sans", sans-serif' font-size="10.5" fill="#111" text-anchor="middle">V(R<tspan dy="-4" font-size="7.5">2</tspan><tspan dy="4">)</tspan></text>
<line x1="412.40" y1="219.6" x2="425.70" y2="219.6" stroke="#333" stroke-width="0.8"/>
<text x="412.60" y="228.8" font-family='"Liberation Serif", serif' font-style="italic" font-size="12.5" fill="#111">R</text>
<text x="421.60" y="225.4" font-family='"Liberation Serif", serif' font-size="7" fill="#111">2</text>
<text x="425.80" y="228.8" font-family='"Liberation Sans", sans-serif' font-size="10.5" fill="#111">(μ<tspan dx="0.4"> m</tspan><tspan dy="-5" dx="-0.4" font-size="7.8">2</tspan><tspan dy="5" dx="-0.6">)</tspan></text>
<text x="501.40" y="55.8" font-family='"Liberation Serif", serif' font-weight="bold" font-size="15.7" fill="#111" stroke="#111" stroke-width="0.25" text-anchor="middle">Brownian</text>
<text x="501.90" y="75.2" font-family='"Liberation Serif", serif' font-weight="bold" font-size="15.7" fill="#111" stroke="#111" stroke-width="0.25" text-anchor="middle">motions</text>
<text x="326.40" y="179.8" font-family='"Liberation Serif", serif' font-weight="bold" font-size="15.7" fill="#111" stroke="#111" stroke-width="0.25" letter-spacing="0.35">+MβCD</text>
<text x="423.00" y="257.4" font-family='"Liberation Serif", serif' font-weight="bold" font-size="19.4" fill="#111" stroke="#111" stroke-width="0.5" text-anchor="middle">(b)</text>
</svg>
</body></html>
